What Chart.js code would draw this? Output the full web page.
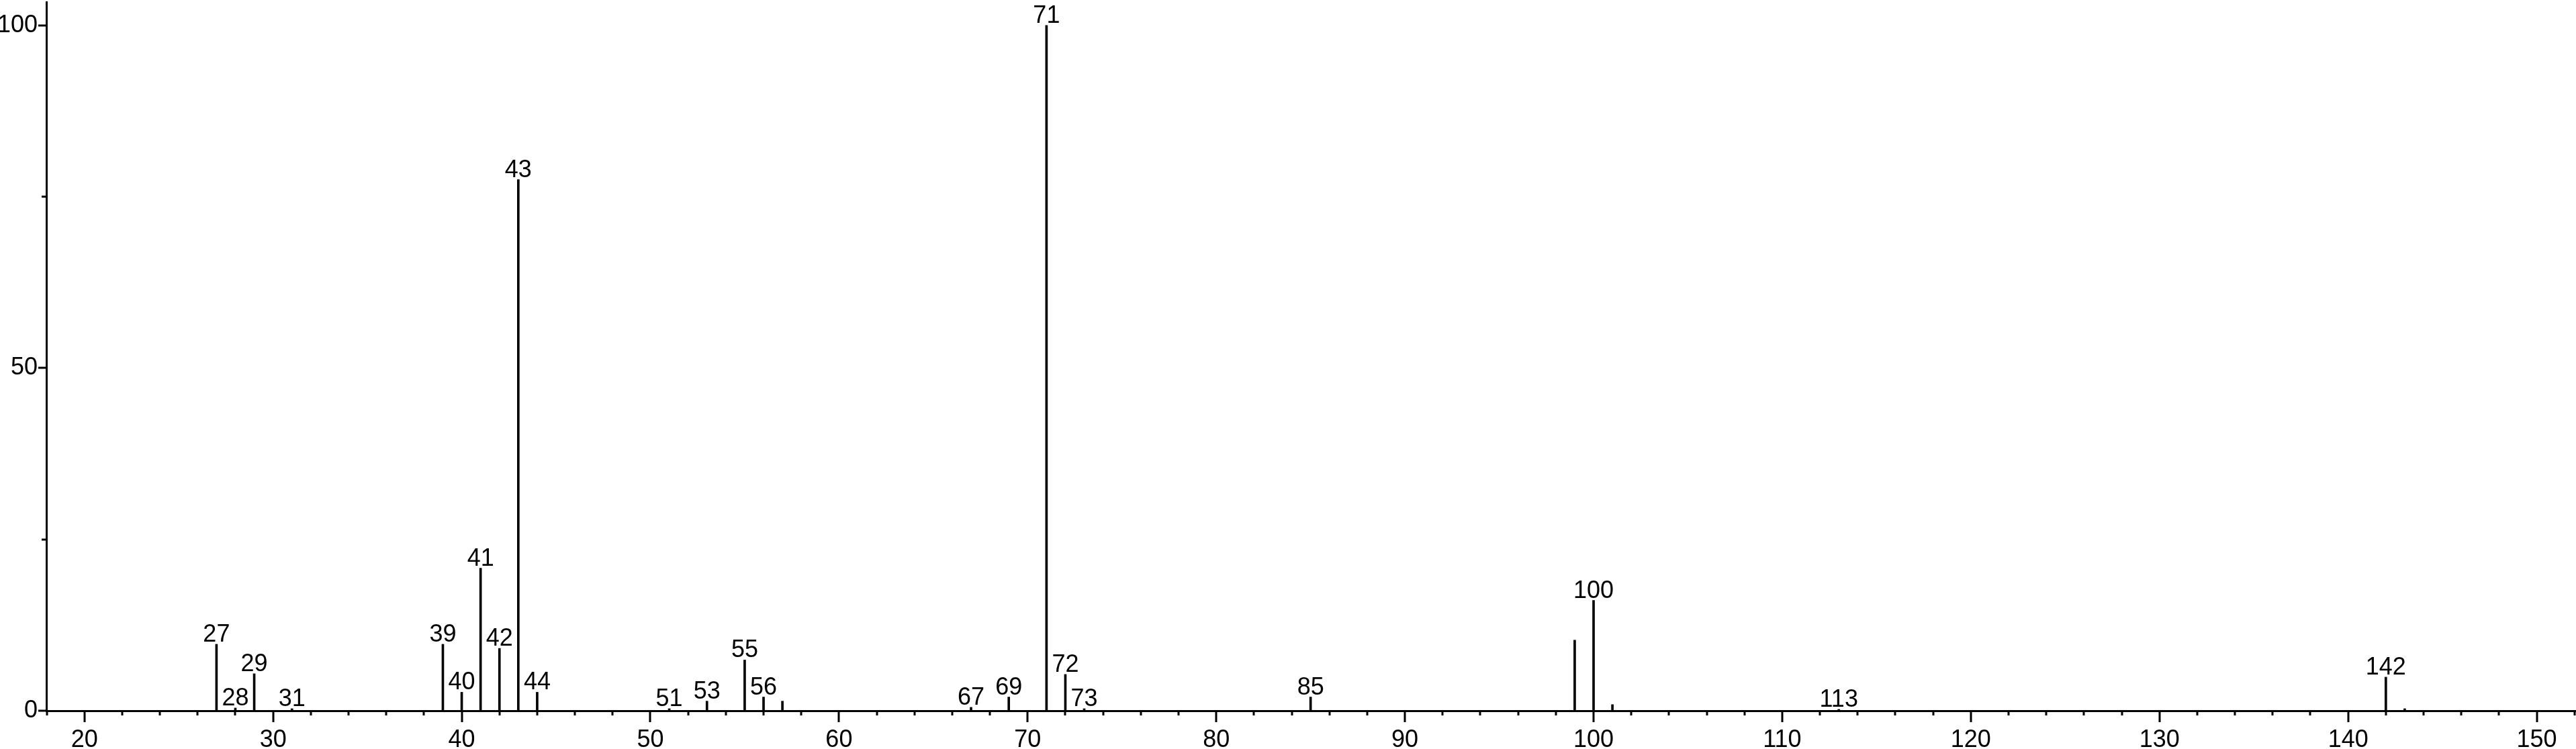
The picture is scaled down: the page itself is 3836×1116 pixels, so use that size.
<!DOCTYPE html>
<html><head><meta charset="utf-8">
<script src="https://cdn.jsdelivr.net/npm/chart.js@4/dist/chart.umd.min.js"></script>
<style>html,body{margin:0;padding:0;background:#fff;overflow:hidden}canvas{display:block}</style>
</head><body>
<canvas id="c" width="3836" height="1116"></canvas>
<script>
// m/z values and relative intensities (%)
const mzValues    = [27, 28, 29, 31, 39, 40, 41, 42, 43, 44, 51, 53, 55, 56, 57, 67, 69, 71, 72, 73, 85, 99, 100, 101, 113, 142, 143];
const intensities = [9.7, 0.4, 5.4, 0.3, 9.7, 2.7, 20.8, 9.1, 77.5, 2.7, 0.3, 1.4, 7.4, 2.0, 1.4, 0.5, 2.0, 100, 5.3, 0.3, 2.0, 10.3, 16.1, 0.9, 0.2, 4.9, 0.3];
// peaks that carry an m/z annotation
const peakLabels  = [27, 28, 29, 31, 39, 40, 41, 42, 43, 44, 51, 53, 55, 56, 67, 69, 71, 72, 73, 85, 100, 113, 142];
// tick labels
const xTickLabels = [20, 30, 40, 50, 60, 70, 80, 90, 100, 110, 120, 130, 140, 150];
const yTickLabels = [0, 50, 100];

const FONT = {family: "'Liberation Sans', Arial, sans-serif", size: 36};

const tickMarks = {
  id: 'tickMarks',
  afterDraw(chart) {
    const ctx = chart.ctx, xs = chart.scales.x, ys = chart.scales.y, a = chart.chartArea;
    ctx.save();
    ctx.strokeStyle = '#000';
    ctx.lineWidth = 3;
    ctx.beginPath();
    xs.ticks.forEach(t => {
      const px = Math.round(xs.getPixelForValue(t.value));
      const len = xTickLabels.includes(t.value) ? 17 : 7;
      ctx.moveTo(px, a.bottom); ctx.lineTo(px, a.bottom + len);
    });
    ys.ticks.forEach(t => {
      const py = Math.round(ys.getPixelForValue(t.value));
      const len = yTickLabels.includes(t.value) ? 12 : 7;
      ctx.moveTo(a.left - len, py); ctx.lineTo(a.left, py);
    });
    ctx.stroke();
    ctx.restore();
  }
};

const peakText = {
  id: 'peakText',
  afterDatasetsDraw(chart) {
    const ctx = chart.ctx;
    const meta = chart.getDatasetMeta(0);
    ctx.save();
    ctx.fillStyle = '#000';
    ctx.font = FONT.size + 'px ' + FONT.family;
    ctx.textAlign = 'center';
    ctx.textBaseline = 'alphabetic';
    meta.data.forEach((el, i) => {
      const mz = mzValues[i];
      if (peakLabels.includes(mz)) ctx.fillText(String(mz), el.x, el.y - 4);
    });
    ctx.restore();
  }
};

new Chart(document.getElementById('c'), {
  type: 'bar',
  data: {
    datasets: [{
      data: mzValues.map((m, i) => ({x: m, y: intensities[i]})),
      backgroundColor: '#000',
      borderWidth: 0,
      barThickness: 3,
      grouped: false
    }]
  },
  options: {
    responsive: false,
    animation: false,
    events: [],
    layout: {padding: {top: 3, left: 0, right: 0, bottom: 0}},
    plugins: {legend: {display: false}, tooltip: {enabled: false}, title: {display: false}},
    scales: {
      x: {
        type: 'linear',
        offset: false,
        min: 17.98,
        max: 152.08,
        grid: {display: false, drawTicks: false, offset: false},
        border: {display: true, color: '#000', width: 3},
        ticks: {
          stepSize: 2,
          includeBounds: false,
          autoSkip: false,
          maxRotation: 0,
          padding: 22,
          color: '#000',
          font: FONT,
          callback: v => xTickLabels.includes(v) ? String(v) : ''
        },
        afterFit: s => { s.height = 57; s.paddingLeft = 0; s.paddingRight = 0; }
      },
      y: {
        type: 'linear',
        min: 0,
        max: 103.4,
        grid: {display: false, drawTicks: false},
        border: {display: true, color: '#000', width: 3},
        ticks: {
          stepSize: 25,
          includeBounds: false,
          autoSkip: false,
          padding: 13,
          color: '#000',
          font: FONT,
          callback: v => yTickLabels.includes(v) ? String(v) : ''
        },
        afterFit: s => { s.width = 69; s.paddingTop = 0; s.paddingBottom = 0; }
      }
    }
  },
  plugins: [tickMarks, peakText]
});
</script>
</body></html>
